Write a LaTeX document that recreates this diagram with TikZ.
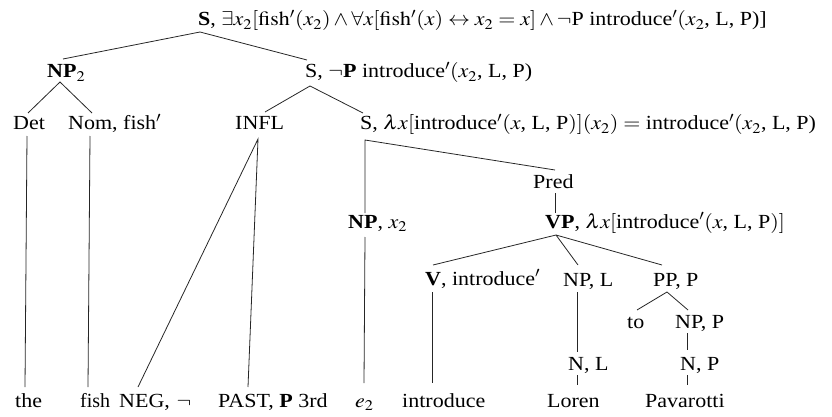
\documentclass[tikz,border=0pt]{standalone}
\usepackage{mathptmx}
\usepackage[no-math]{fontspec}
\setmainfont{Liberation Serif}
\usetikzlibrary{calc}
\newcommand{\wdtxt}[1]{\scalebox{1.1}[1]{#1}}
\begin{document}
\begin{tikzpicture}[x=1pt,y=-1pt,
  lbl/.style={anchor=base west, inner sep=0pt, font=\fontsize{20}{24}\selectfont},
  edge/.style={line width=0.8pt, black!85}]
\useasboundingbox (0,0) rectangle (832,417);
% nodes
\node[lbl] (root) at (198,26) {\wdtxt{\textbf{S}, $\exists x_2[\mathrm{fish}'(x_2)\wedge\forall x[\mathrm{fish}'(x)\leftrightarrow x_2=x]\wedge\neg$P introduce$'(x_2$, L, P)]}};
\node[lbl] (np2) at (47,78) {\wdtxt{\textbf{NP}$_2$}};
\node[lbl] (s1) at (305,78) {\wdtxt{S, $\neg$\textbf{P} introduce$'(x_2$, L, P)}};
\node[lbl] (det) at (13,130) {\wdtxt{Det}};
\node[lbl] (nom) at (68,130) {\wdtxt{Nom, fish$'$}};
\node[lbl] (infl) at (235,130) {\wdtxt{INFL}};
\node[lbl] (s2) at (360,130) {\wdtxt{S, $\lambda x[$introduce$'(x$, L, P$)](x_2)=$ introduce$'(x_2$, L, P)}};
\node[lbl] (pred) at (533,188) {\wdtxt{Pred}};
\node[lbl] (npx) at (348,228) {\wdtxt{\textbf{NP}, $x_2$}};
\node[lbl] (vp) at (545,228) {\wdtxt{\textbf{VP}, $\lambda x[$introduce$'(x$, L, P$)]$}};
\node[lbl] (v) at (425,285) {\wdtxt{\textbf{V}, introduce$'$}};
\node[lbl] (npl) at (563,286) {\wdtxt{NP, L}};
\node[lbl] (pp) at (653,286) {\wdtxt{PP, P}};
\node[lbl] (to) at (627,328) {\wdtxt{to}};
\node[lbl] (npp) at (675,328) {\wdtxt{NP, P}};
\node[lbl] (nl) at (568,370) {\wdtxt{N, L}};
\node[lbl] (np) at (680,370) {\wdtxt{N, P}};
\node[lbl] (the) at (15,407) {\wdtxt{the}};
\node[lbl] (fish) at (80,407) {fish};
\node[lbl] (neg) at (119,407) {\wdtxt{NEG,\hspace{6pt}$\neg$}};
\node[lbl] (past) at (218,407) {\wdtxt{PAST, \textbf{P} 3rd}};
\node[lbl] (e2) at (355,407) {\wdtxt{$e_2$}};
\node[lbl] (intro) at (402,407) {\wdtxt{introduce}};
\node[lbl] (loren) at (547,407) {\wdtxt{Loren}};
\node[lbl] (pav) at (645,407) {\wdtxt{Pavarotti}};
% edges
\draw[edge] ($(np2.base west)+(16,-19)$) -- ($(root.base west)+(2,6)$) -- ($(s1.base west)+(2,-18)$);
\draw[edge] ($(det.base west)+(15,-17)$) -- ($(np2.base west)+(13,4)$) -- ($(nom.base west)+(24,-17)$);
\draw[edge] ($(infl.base west)+(30,-18)$) -- ($(s1.base west)+(5,8)$) -- ($(s2.base west)+(3,-17)$);
\draw[edge] ($(det.base west)+(14,6)$) -- ($(the.base west)+(10,-20)$);
\draw[edge] ($(nom.base west)+(22,6)$) -- ($(fish.base west)+(8,-20)$);
\draw[edge] ($(neg.base west)+(19,-20)$) -- ($(infl.base west)+(23,9)$) -- ($(past.base west)+(30,-20)$);
\draw[edge] ($(npx.base west)+(17,-15)$) -- ($(s2.base west)+(5,10)$) -- ($(pred.base west)+(22,-18)$);
\draw[edge] ($(pred.base west)+(22,5)$) -- ($(vp.base west)+(10,-15)$);
\draw[edge] ($(npx.base west)+(17,9)$) -- ($(e2.base west)+(9,-24)$);
\draw[edge] ($(v.base west)+(8,-20)$) -- ($(vp.base west)+(11,7)$) -- ($(pp.base west)+(9,-21)$);
\draw[edge] ($(vp.base west)+(11,7)$) -- ($(npl.base west)+(15,-21)$);
\draw[edge] ($(v.base west)+(7,7)$) -- ($(intro.base west)+(30,-24)$);
\draw[edge] ($(npl.base west)+(14,6)$) -- ($(nl.base west)+(9,-18)$);
\draw[edge] ($(to.base west)+(10,-18)$) -- ($(pp.base west)+(14,6)$) -- ($(npp.base west)+(13,-18)$);
\draw[edge] ($(npp.base west)+(12,5)$) -- ($(np.base west)+(7,-20)$);
\draw[edge] ($(nl.base west)+(9,5)$) -- ($(loren.base west)+(30,-22)$);
\draw[edge] ($(np.base west)+(7,5)$) -- ($(pav.base west)+(42,-22)$);
\end{tikzpicture}
\end{document}
